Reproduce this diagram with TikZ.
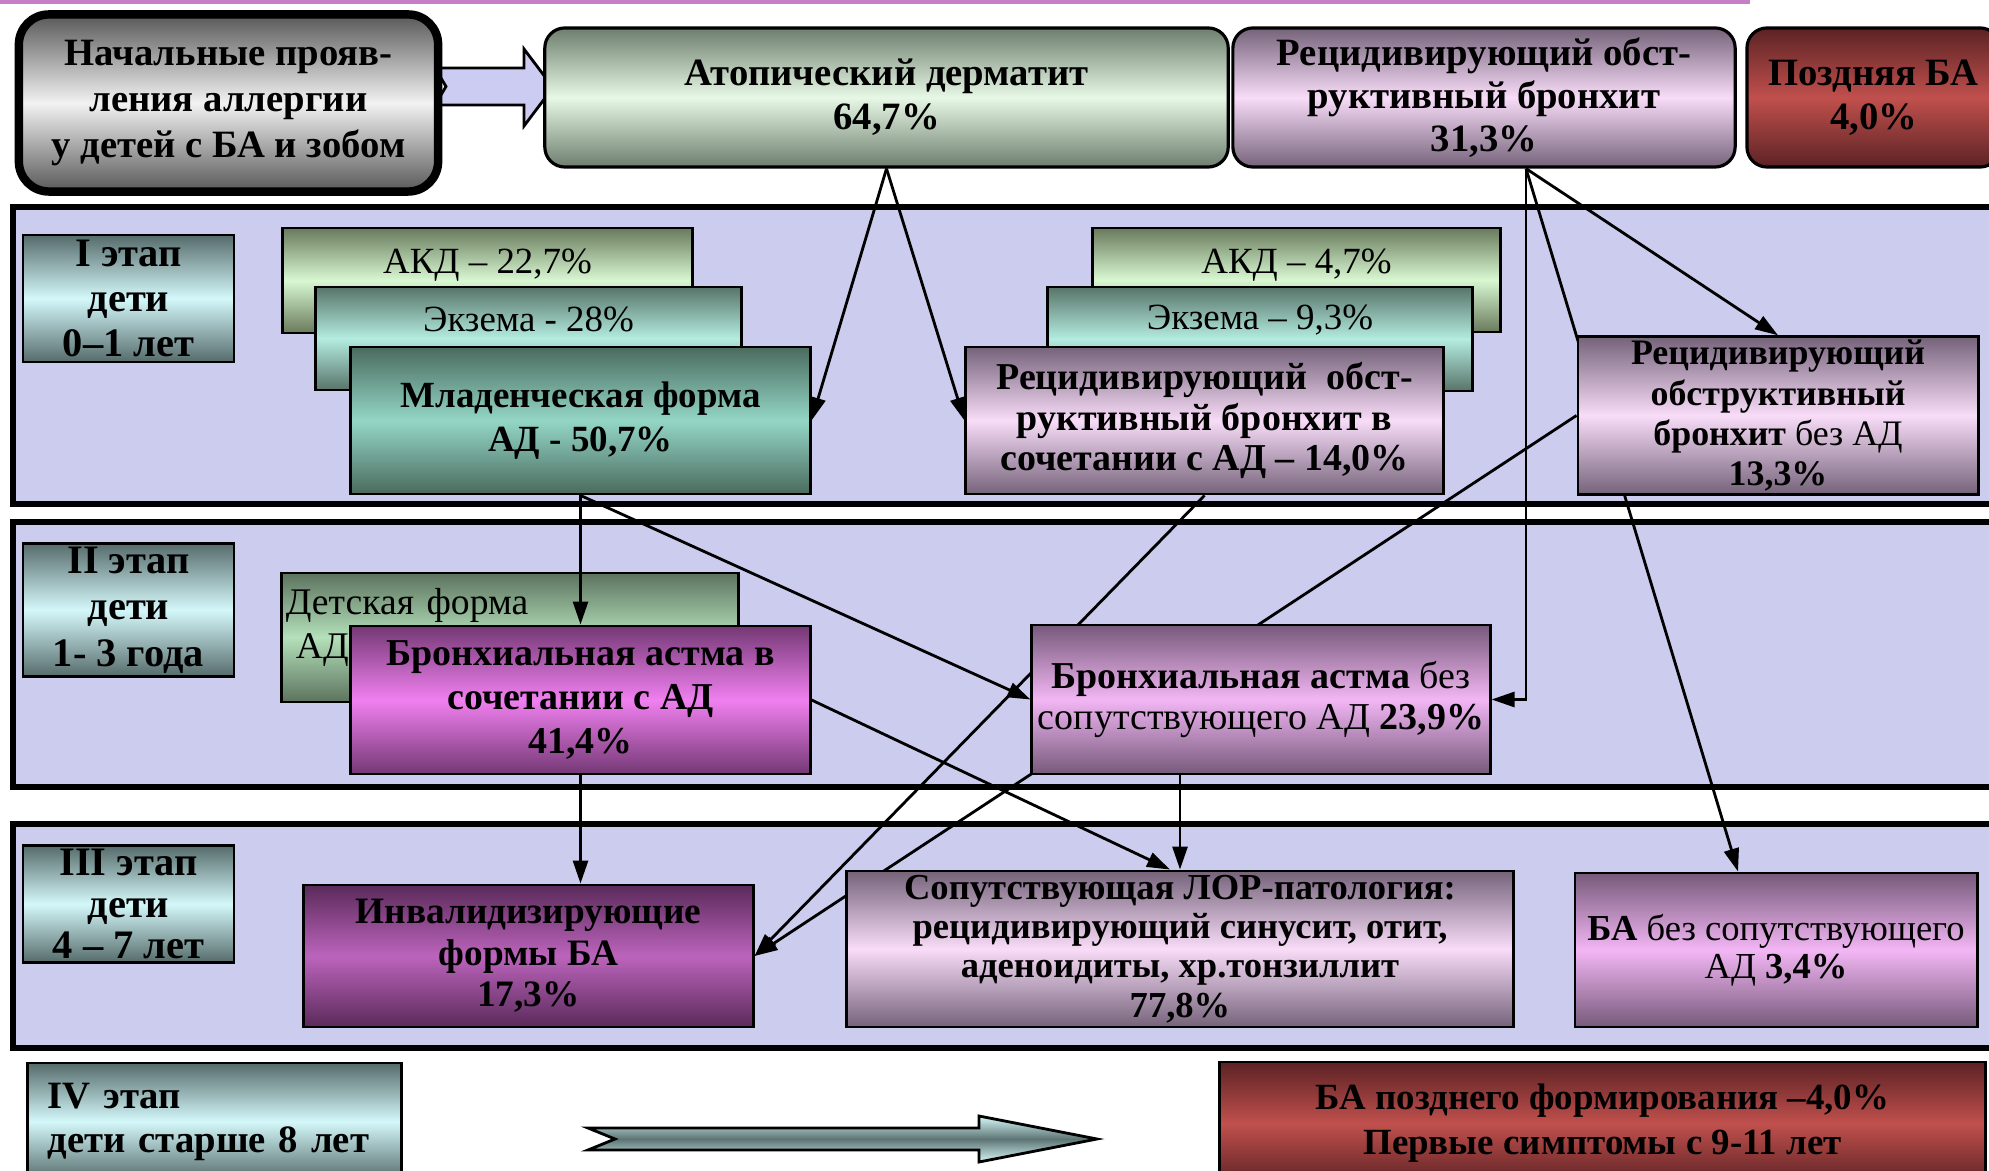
\documentclass[tikz,border=0pt]{standalone}
\usepackage{fontspec}
\setmainfont{Liberation Serif}
\usetikzlibrary{arrows.meta,calc}

\definecolor{bandfill}{HTML}{CCCCEE}
\definecolor{rulepink}{HTML}{C87DC8}
\definecolor{arrowfill}{HTML}{CCCCF2}
\definecolor{graydk}{HTML}{585858}
\definecolor{graylt}{HTML}{F2F2F2}
\definecolor{atdk}{HTML}{6E7E6E}
\definecolor{atlt}{HTML}{E8F8E6}
\definecolor{purdk}{HTML}{75637A}
\definecolor{purlt}{HTML}{F8DCF8}
\definecolor{reddk}{HTML}{5C2224}
\definecolor{redlt}{HTML}{C0504D}
\definecolor{stdk}{HTML}{566B6B}
\definecolor{stlt}{HTML}{D4F8FA}
\definecolor{akddk}{HTML}{697A5C}
\definecolor{akdlt}{HTML}{D8F8D2}
\definecolor{ekzdk}{HTML}{587469}
\definecolor{ekzlt}{HTML}{B4ECE0}
\definecolor{mladdk}{HTML}{4A6B5E}
\definecolor{mladlt}{HTML}{94D6C6}
\definecolor{detdk}{HTML}{5C735E}
\definecolor{detlt}{HTML}{B4E0BA}
\definecolor{baaddk}{HTML}{743874}
\definecolor{baadlt}{HTML}{F080F0}
\definecolor{bawodk}{HTML}{765A7A}
\definecolor{bawolt}{HTML}{F2B6F4}
\definecolor{invdk}{HTML}{5A2A5A}
\definecolor{invlt}{HTML}{BC64BC}
\definecolor{arrdk}{HTML}{5E7474}
\definecolor{arrlt}{HTML}{D6F8F8}

\pgfdeclarelayer{bands}
\pgfdeclarelayer{links}
\pgfsetlayers{bands,links,main}

\newcommand{\fsz}[2]{\fontsize{#1}{#2}\selectfont}

\tikzset{
  band/.style={draw, line width=1.6pt, fill=bandfill},
  tint/.style 2 args={top color=#1, bottom color=#1, middle color=#2},
  rbox/.style={draw, line width=0.9pt, rounded corners=0.2cm, align=center, inner sep=1pt},
  sqbox/.style={draw, line width=0.8pt, align=center, inner sep=1pt},
  stagebox/.style={sqbox, tint={stdk}{stlt}, minimum width=2.11cm, font=\bfseries\fsz{11.5}{12.8}},
  link/.style={line width=0.8pt, -{Triangle[length=2.3mm,width=1.5mm]}},
}

\begin{document}
\begin{tikzpicture}[x=0.01cm, y=-0.01cm]
    \useasboundingbox (0,0) rectangle (1989,1171);

    \begin{pgfonlayer}{bands}
      \clip (0,0) rectangle (1989,1171);
      \draw[rulepink, line width=1.2pt] (0,1.5) -- (1750,1.5);
      \draw[band] (13,207) rectangle (2010,504);
      \draw[band] (13,522) rectangle (2010,787);
      \draw[band] (13,824) rectangle (2010,1048);
    \end{pgfonlayer}

    \begin{scope}
    \clip (0,0) rectangle (1989,1171);
    % block arrows
    \draw[line width=0.8pt, fill=arrowfill] (435,68) -- (524,68) -- (524,49) -- (553,87.5)
      -- (524,126) -- (524,105) -- (435,105) -- (446,86.5) -- cycle;
    \draw[line width=0.8pt, tint={arrlt}{arrdk}] (588,1128) -- (979,1128) -- (979,1116) -- (1097,1139)
      -- (979,1162) -- (979,1150) -- (588,1150) -- (615,1139) -- cycle;

    % top row
    \node[rbox, tint={graydk}{graylt}, line width=2.4pt, rounded corners=0.3cm, minimum width=4.19cm,
      minimum height=1.77cm, font=\bfseries\fsz{11}{13.2}] (init) at (228.5,103)
      {Начальные прояв-\\ления аллергии\\у детей с БА и зобом};
    \node[rbox, tint={atdk}{atlt}, minimum width=6.83cm, minimum height=1.39cm,
      font=\bfseries\fsz{11}{12.5}] (atop) at (886.5,97.5) {Атопический дерматит\\64,7\%};
    \node[rbox, tint={purdk}{purlt}, minimum width=5.02cm, minimum height=1.39cm,
      font=\bfseries\fsz{11}{12.2}] (recb) at (1484,97.5) {Рецидивирующий обст-\\руктивный бронхит\\31,3\%};
    \node[rbox, tint={reddk}{redlt}, minimum width=2.53cm, minimum height=1.39cm,
      font=\bfseries\fsz{11}{12.5}] (late) at (1873.5,97.5) {Поздняя БА\\4,0\%};

    % stages
    \node[stagebox, minimum height=1.27cm] (st1) at (128.5,298.5) {I этап\\дети\\0–1 лет};
    \node[stagebox, minimum height=1.22cm, font=\bfseries\fsz{11.5}{13.2}] (st2) at (128.5,610) {II этап\\дети\\1- 3 года};
    \node[stagebox, minimum height=1.14cm, font=\bfseries\fsz{11.5}{11.8}] (st3) at (128.5,904) {III этап\\дети\\4 – 7 лет};
    \node[sqbox, tint={stdk}{stlt}, minimum width=3.73cm, minimum height=1.17cm, align=left,
      text width=3.33cm, font=\bfseries\fsz{11}{12.5}] (st4) at (214.5,1121.5) {IV этап\\дети старше 8 лет};

    % stage I
    \node[sqbox, tint={akddk}{akdlt}, minimum width=4.09cm, minimum height=1.05cm, text depth=0.38cm,
      font=\fsz{10.5}{12}] (akd1) at (487.5,280.5) {АКД – 22,7\%};
    \node[sqbox, tint={ekzdk}{ekzlt}, minimum width=4.25cm, minimum height=1.03cm, text depth=0.38cm,
      font=\fsz{10.5}{12}] (ekz1) at (528.5,338.5) {Экзема - 28\%};
    \node[sqbox, tint={mladdk}{mladlt}, minimum width=4.59cm, minimum height=1.47cm,
      font=\bfseries\fsz{10.5}{12.5}] (mlad) at (580.5,420.5) {Младенческая форма\\АД - 50,7\%};
    \node[sqbox, tint={akddk}{akdlt}, minimum width=4.07cm, minimum height=1.04cm, text depth=0.38cm,
      font=\fsz{10.5}{12}] (akd2) at (1296.5,280) {АКД – 4,7\%};
    \node[sqbox, tint={ekzdk}{ekzlt}, minimum width=4.24cm, minimum height=1.04cm, text depth=0.44cm,
      font=\fsz{10.5}{12}] (ekz2) at (1260,339) {Экзема – 9,3\%};
    \node[sqbox, tint={purdk}{purlt}, minimum width=4.77cm, minimum height=1.47cm,
      font=\bfseries\fsz{10.8}{11.5}] (rsoc) at (1204.5,420.5)
      {Рецидивирующий\ \ обст-\\руктивный бронхит в\\сочетании с АД – 14,0\%};
    \node[sqbox, tint={purdk}{purlt}, minimum width=4.0cm, minimum height=1.57cm,
      font=\bfseries\fsz{10.2}{11.4}] (rbez) at (1778,415.5)
      {Рецидивирующий\\обструктивный\\бронхит \textmd{без АД}\\13,3\%};

    % stage II
    \node[sqbox, tint={detdk}{detlt}, minimum width=4.56cm, minimum height=1.29cm, align=left,
      text width=4.48cm, text depth=0.72cm, font=\fsz{10.7}{12.5}] (det) at (510,637.5) {Детская форма\\\hspace{0.1cm}АД};
    \node[sqbox, tint={baaddk}{baadlt}, minimum width=4.59cm, minimum height=1.48cm,
      font=\bfseries\fsz{10.8}{12.6}] (baad) at (580.5,700) {Бронхиальная астма в\\сочетании с АД\\41,4\%};
    \node[sqbox, tint={bawodk}{bawolt}, minimum width=4.58cm, minimum height=1.49cm,
      font=\fsz{10.8}{11.6}] (bawo) at (1261,699.5)
      {\textbf{Бронхиальная астма} без\\сопутствующего АД \textbf{23,9\%}};

    % stage III
    \node[sqbox, tint={invdk}{invlt}, minimum width=4.49cm, minimum height=1.42cm,
      font=\bfseries\fsz{10.6}{11.8}] (inval) at (528.5,956) {Инвалидизирующие\\формы БА\\17,3\%};
    \node[sqbox, tint={purdk}{purlt}, minimum width=6.66cm, minimum height=1.56cm,
      font=\bfseries\fsz{10.4}{11.2}] (lor) at (1180,949)
      {Сопутствующая ЛОР-патология:\\рецидивирующий синусит, отит,\\аденоидиты, хр.тонзиллит\\77,8\%};
    \node[sqbox, tint={bawodk}{bawolt}, minimum width=4.02cm, minimum height=1.54cm,
      font=\fsz{10.4}{10.8}] (ba34) at (1776,950) {\textbf{БА} без сопутствующего\\АД \textbf{3,4\%}};

    % stage IV
    \node[sqbox, tint={reddk}{redlt}, minimum width=7.65cm, minimum height=1.23cm,
      font=\bfseries\fsz{10.5}{12.8}] (late2) at (1602.5,1123.5)
      {БА позднего формирования –4,0\%\\Первые симптомы с 9-11 лет};
    \end{scope}

    \coordinate (cb) at ($(recb.south)+(42,0)$);
    \draw[link] (atop.south) -- (mlad.east);
    \draw[link] (atop.south) -- (rsoc.west);
    \draw[link] (cb) -- (rbez.north);
    \draw[link] (cb) |- (bawo.east);
    \draw[link] (mlad.south) -- (baad.north);
    \draw[link] (mlad.south) -- (bawo.west);
    \draw[link] (baad.south) -- (baad.south |- inval.north);
    \draw[link] (baad.east) -- ($(lor.north)+(-10,0)$);
    \draw[link] (bawo.south -| lor.north) -- (lor.north);
    % these run behind the boxes
    \begin{pgfonlayer}{links}
      \draw[link] (cb) -- ($(ba34.north)+(-38,0)$);
      \draw[link] (rsoc.south) -- (inval.east);
      \draw[link] (rbez.west) -- (inval.east);
    \end{pgfonlayer}
  \end{tikzpicture}
\end{document}
